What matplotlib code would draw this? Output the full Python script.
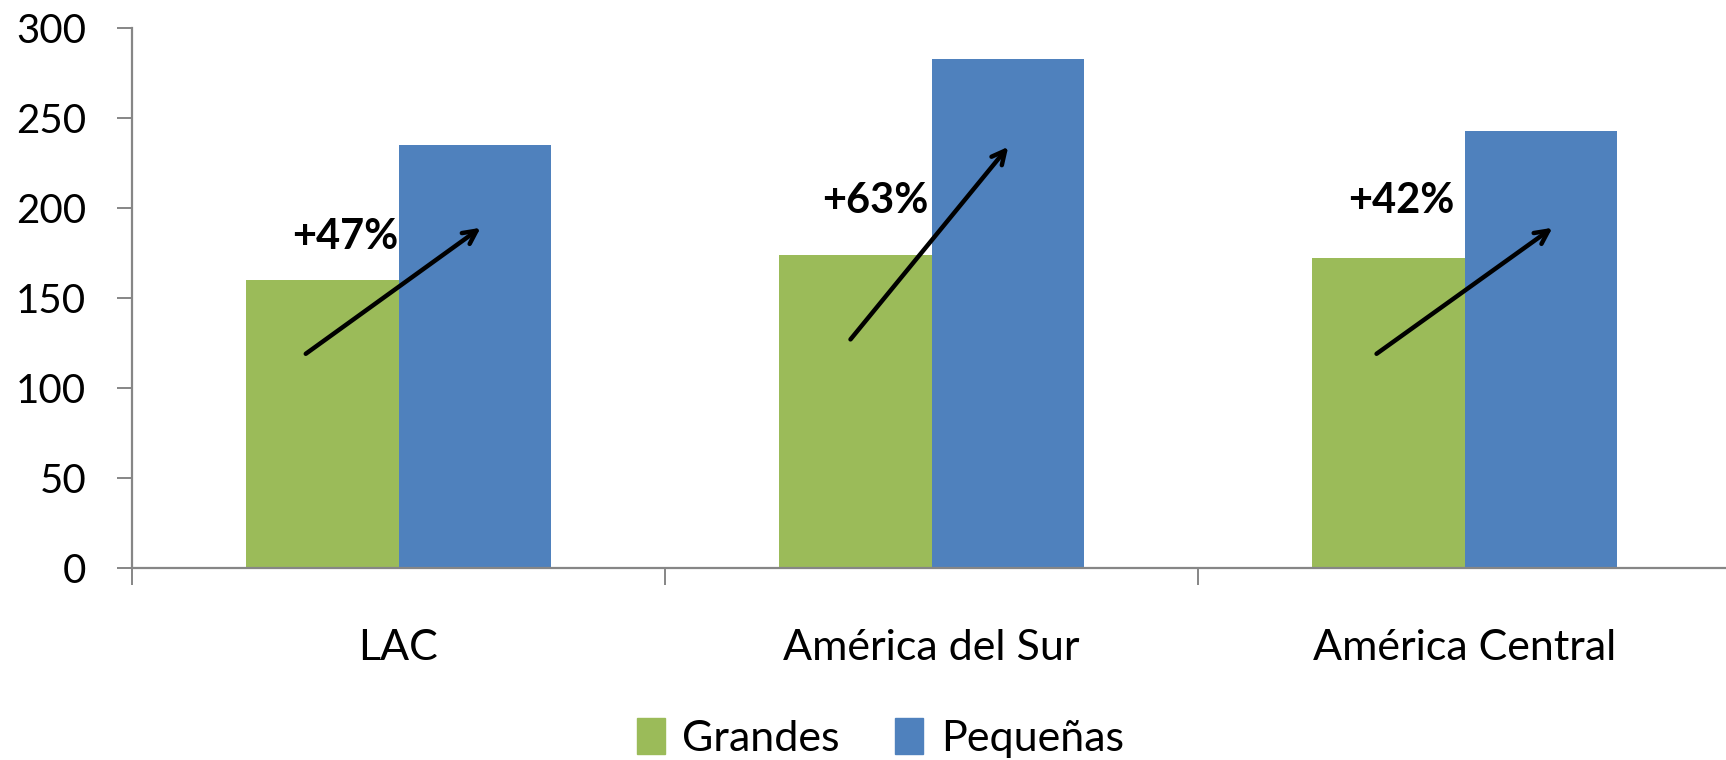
import numpy as np
import matplotlib
matplotlib.use('Agg')
import matplotlib.pyplot as plt
from matplotlib.patches import Patch

plt.rcParams['font.family'] = ['Lato', 'DejaVu Sans']

# data
regions = ['LAC', 'América del Sur', 'América Central']
grandes = [160, 174, 172]
pequenas = [235, 283, 243]
growth_labels = ['+47%', '+63%', '+42%']

# arrow start / end, as (offset from category centre, value)
arrow_start = [(-0.174, 119), (-0.152, 127), (-0.165, 119)]
arrow_end = [(0.154, 189), (0.144, 234), (0.165, 189)]
label_pos = [(-0.10, 184), (-0.105, 204), (-0.118, 204)]

palette = {'Grandes': '#9BBB59', 'Pequeñas': '#4F81BD'}
axis_grey = '#868686'

W, H = 1726, 760
fig = plt.figure(figsize=(W / 100, H / 100), dpi=100)
left, right = 132, 1731
bottom, top = 568, 28
ax = fig.add_axes([left / W, 1 - bottom / H, (right - left) / W, (bottom - top) / H])

x = np.arange(len(regions))
width = 0.287
ax.bar(x - width / 2, grandes, width, color=palette['Grandes'], zorder=2)
ax.bar(x + width / 2, pequenas, width, color=palette['Pequeñas'], zorder=2)

ax.set_xlim(-0.5, 2.5)
ax.set_ylim(0, 300)
ax.set_yticks(range(0, 301, 50))
ax.tick_params(axis='y', labelsize=29, length=11, width=1.4, color=axis_grey, pad=22)

# category ticks sit between the groups, labels centred under each group
ax.set_xticks([-0.5, 0.5, 1.5])
ax.set_xticklabels([])
ax.set_xticks(x, minor=True)
ax.set_xticklabels(regions, minor=True, fontsize=31)
ax.tick_params(axis='x', which='major', length=12, width=1.4, color=axis_grey)
ax.tick_params(axis='x', which='minor', length=0, pad=44)

for s in ['top', 'right']:
    ax.spines[s].set_visible(False)
for s in ['left', 'bottom']:
    ax.spines[s].set_color(axis_grey)
    ax.spines[s].set_linewidth(1.6)
ax.spines['bottom'].set_zorder(3)

for i in range(len(regions)):
    sx, sy = arrow_start[i]
    ex, ey = arrow_end[i]
    ax.annotate('', xy=(i + ex, ey), xytext=(i + sx, sy),
                arrowprops=dict(arrowstyle='->', lw=3.2, color='black',
                                mutation_scale=24, shrinkA=0, shrinkB=0),
                zorder=4)
    tx, ty = label_pos[i]
    ax.text(i + tx, ty, growth_labels[i], fontsize=30, fontweight='bold',
            ha='center', va='center', zorder=5)

handles = [Patch(color=palette['Grandes'], label='Grandes'),
           Patch(color=palette['Pequeñas'], label='Pequeñas')]
fig.legend(handles=handles, loc='center', bbox_to_anchor=(0.51, 1 - 738 / H),
           ncol=2, frameon=False, fontsize=31, handlelength=0.65,
           handleheight=0.9, handletextpad=0.4, columnspacing=1.3)

fig.savefig('out.png', dpi=100)
